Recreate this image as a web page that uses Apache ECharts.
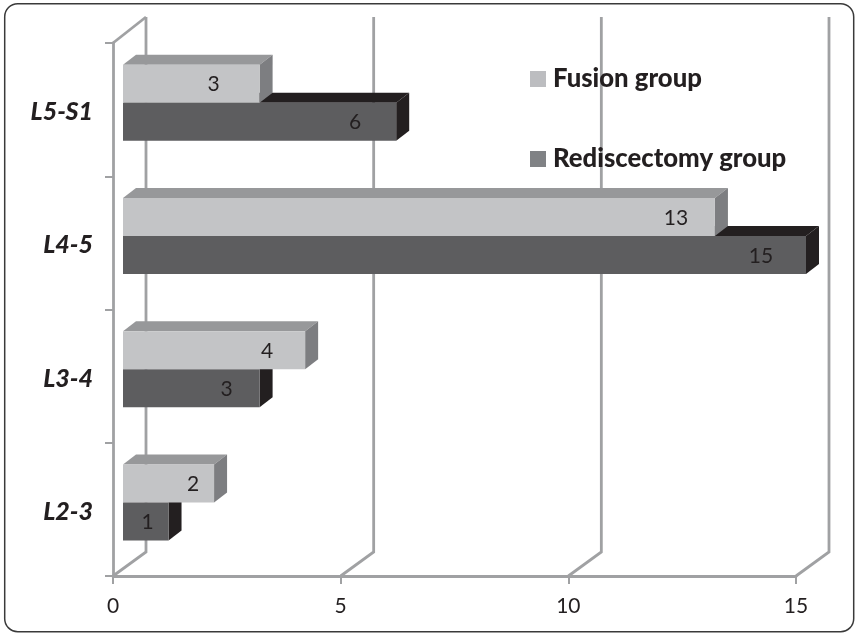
<!DOCTYPE html>
<html><head><meta charset="utf-8">
<style>html,body{margin:0;padding:0;background:#fff}#c{width:855px;height:633px}</style>
<script src="https://cdn.jsdelivr.net/npm/echarts@6/dist/echarts.min.js"></script>
</head><body><div id="c"></div>
<script>
const categories = ['L2-3', 'L3-4', 'L4-5', 'L5-S1'];
const fusionGroup = [2, 4, 13, 3];
const rediscectomyGroup = [1, 3, 15, 6];
const xTicks = [0, 5, 10, 15];

const FONT = 'Lato';
const WALL = '#a0a1a3', INK = '#231f20';
const WALL_DX = 33, WALL_DY = -24;
const BAR_DX = 13, BAR_DY = -10, BAR_SHIFT_X = 10, BAR_SHIFT_Y = -7, BAR_H = 38;
// horizontal distance of each printed value from the bar's end, px
const fusionInset = [21, 38, 39, 46];
const rediscInset = [21, 33, 45, 41];

function barItem(upper, colors, insets) {
  return function (params, api) {
    const v = api.value(0), idx = api.value(1);
    const end = api.coord([v, idx]), start = api.coord([0, idx]);
    const x0 = start[0] + BAR_SHIFT_X, x1 = end[0] + BAR_SHIFT_X;
    const yc = start[1] + BAR_SHIFT_Y;
    const y0 = upper ? yc - BAR_H : yc, y1 = y0 + BAR_H;
    return { type: 'group', children: [
      { type: 'polygon', shape: { points: [[x0, y0], [x1, y0], [x1 + BAR_DX, y0 + BAR_DY], [x0 + BAR_DX, y0 + BAR_DY]] }, style: { fill: colors.top } },
      { type: 'polygon', shape: { points: [[x1, y0], [x1 + BAR_DX, y0 + BAR_DY], [x1 + BAR_DX, y1 + BAR_DY], [x1, y1]] }, style: { fill: colors.side } },
      { type: 'rect', shape: { x: x0, y: y0, width: x1 - x0, height: BAR_H }, style: { fill: colors.front } },
      { type: 'text', x: x1 - insets[idx], y: (y0 + y1) / 2 + 1, style: { text: String(v), fill: INK, font: '21px ' + FONT, align: 'center', verticalAlign: 'middle' } }
    ] };
  };
}
function wallItem(params, api) {
  const cs = params.coordSys, bottom = cs.y + cs.height, top = cs.y;
  const x = api.coord([api.value(0), 0])[0];
  const s = { stroke: WALL, lineWidth: 2.8 };
  const kids = [
    { type: 'polyline', shape: { points: [[x, bottom], [x + WALL_DX, bottom + WALL_DY], [x + WALL_DX, top + WALL_DY - 2]] }, style: Object.assign({ fill: null }, s) }
  ];
  if (api.value(0) === 0) kids.push({ type: 'line', shape: { x1: x, y1: top, x2: x + WALL_DX, y2: top + WALL_DY - 2 }, style: s });
  return { type: 'group', children: kids };
}

const chart = echarts.init(document.getElementById('c'), null, { renderer: 'canvas' });
chart.setOption({
  animation: false,
  backgroundColor: '#fff',
  graphic: [{ type: 'rect', z: -1, shape: { x: 4.7, y: 3.7, width: 849, height: 628, r: 13 }, style: { fill: '#fff', stroke: '#3a3a3a', lineWidth: 1.5 } }],
  grid: { left: 113, right: 59, top: 43, bottom: 57 },
  legend: {
    orient: 'vertical', left: 525, top: 61, itemGap: 54, itemWidth: 16, itemHeight: 16, icon: 'rect',
    textStyle: { fontFamily: FONT, fontWeight: 900, fontSize: 25.7, color: INK, padding: [0, 0, 0, 2] },
    data: [
      { name: 'Fusion group', itemStyle: { color: '#bcbdc0' } },
      { name: 'Rediscectomy group', itemStyle: { color: '#808285' } }
    ]
  },
  xAxis: {
    type: 'value', min: 0, max: 15, interval: 5,
    axisLine: { show: true, lineStyle: { color: WALL, width: 2.8 } },
    axisTick: { show: true, length: 8, lineStyle: { color: WALL, width: 2 } },
    axisLabel: { fontFamily: FONT, fontSize: 21, color: INK, margin: 20 },
    splitLine: { show: false }
  },
  yAxis: {
    type: 'category', data: categories,
    axisLine: { show: true, lineStyle: { color: WALL, width: 2.8 } },
    axisTick: { show: true, length: 8, lineStyle: { color: WALL, width: 2 } },
    axisLabel: { fontFamily: FONT, fontSize: 25, fontWeight: 900, fontStyle: 'italic', color: INK, margin: 20, verticalAlign: 'top', lineHeight: 5 }
  },
  series: [
    { type: 'custom', name: 'walls', silent: true, z: 1, renderItem: wallItem, encode: { x: 0 }, data: xTicks.map(v => [v]), clip: false },
    { type: 'custom', name: 'Rediscectomy group', z: 3, clip: false,
      renderItem: barItem(false, { front: '#5d5d5f', side: '#231f20', top: '#231f20' }, rediscInset),
      encode: { x: 0, y: 1 }, data: rediscectomyGroup.map((v, i) => [v, i]) },
    { type: 'custom', name: 'Fusion group', z: 4, clip: false,
      renderItem: barItem(true, { front: '#c3c4c6', side: '#7d7e81', top: '#97989a' }, fusionInset),
      encode: { x: 0, y: 1 }, data: fusionGroup.map((v, i) => [v, i]) }
  ]
});
</script></body></html>
